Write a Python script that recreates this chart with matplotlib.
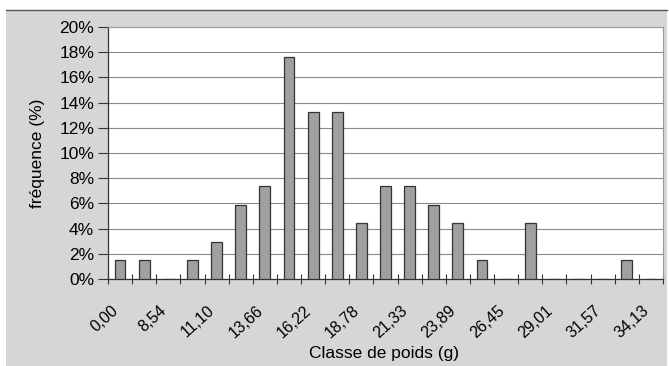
import matplotlib
matplotlib.use("Agg")
import matplotlib.pyplot as plt
from matplotlib.patches import Rectangle
from matplotlib.lines import Line2D
from matplotlib.transforms import ScaledTranslation
import numpy as np

plt.rcParams['font.family'] = ['Liberation Sans', 'DejaVu Sans']

# Weight classes (g) and their relative frequency (%)
classes = ["0,00", "7,26", "8,54", "9,82", "11,10", "12,38", "13,66", "14,94",
           "16,22", "17,50", "18,78", "20,06", "21,33", "22,61", "23,89", "25,17",
           "26,45", "27,73", "29,01", "30,29", "31,57", "32,85", "34,13"]
frequency = [1.47, 1.47, 0.0, 1.47, 2.94, 5.88, 7.35, 17.65, 13.24, 13.24, 4.41,
             7.35, 7.35, 5.88, 4.41, 1.47, 0.0, 4.41, 0.0, 0.0, 0.0, 1.47, 0.0]
y_ticks = [0, 2, 4, 6, 8, 10, 12, 14, 16, 18, 20]

W, H = 669, 366
fig = plt.figure(figsize=(W / 100, H / 100), dpi=100)
fig.patch.set_facecolor("white")

# Grey chart background with a dark top border
bg = Rectangle((6 / W, 0), 661 / W, 356 / H, transform=fig.transFigure,
               facecolor="#d6d6d6", edgecolor="none", zorder=-10)
fig.patches.append(bg)
fig.add_artist(Line2D([6 / W, 667 / W], [356 / H, 356 / H], transform=fig.transFigure,
                      color="#555555", lw=1.0, zorder=-5))

ax = fig.add_axes([108 / W, 1 - 279 / H, (663 - 108) / W, (279 - 27) / H])
ax.set_facecolor("white")

x = np.arange(len(classes))
ax.bar(x, frequency, width=0.45, color="#a0a0a0", edgecolor="#333333",
       linewidth=0.9, zorder=3)

ax.set_xlim(-0.5, len(classes) - 0.5)
ax.set_ylim(0, 20)
ax.set_yticks(y_ticks)
ax.set_yticklabels([f"{v}%" for v in y_ticks], fontsize=12.5)
ax.yaxis.grid(True, color="#8a8a8a", lw=0.8, zorder=0)

# Cross tick marks at class boundaries, labels on every other class
ax.set_xticks(np.arange(len(classes) + 1) - 0.5)
ax.set_xticklabels([])
ax.tick_params(axis="x", direction="inout", length=7, width=0.8, color="#333333")
ax.set_xticks(x[::2], minor=True)
ax.set_xticklabels(classes[::2], minor=True, rotation=42, ha="right",
                   rotation_mode="anchor", fontsize=11.5)
ax.tick_params(axis="x", which="minor", length=0, pad=17)
offset = ScaledTranslation(-9 / 100, 0, fig.dpi_scale_trans)
for lbl in ax.get_xticklabels(minor=True):
    lbl.set_transform(lbl.get_transform() + offset)

ax.tick_params(axis="y", direction="out", length=7, width=0.8, color="#333333", pad=3)

for side in ("top", "right"):
    ax.spines[side].set_color("#9a9a9a")
    ax.spines[side].set_linewidth(0.8)
for side in ("left", "bottom"):
    ax.spines[side].set_color("#333333")
    ax.spines[side].set_linewidth(0.9)

ax.set_ylabel("fréquence (%)", fontsize=12.5, labelpad=10)
ax.set_xlabel("Classe de poids (g)", fontsize=12.5)
ax.xaxis.set_label_coords(0.497, (279 - 346) / 252)

fig.savefig("out.png", dpi=100, facecolor=fig.get_facecolor())
